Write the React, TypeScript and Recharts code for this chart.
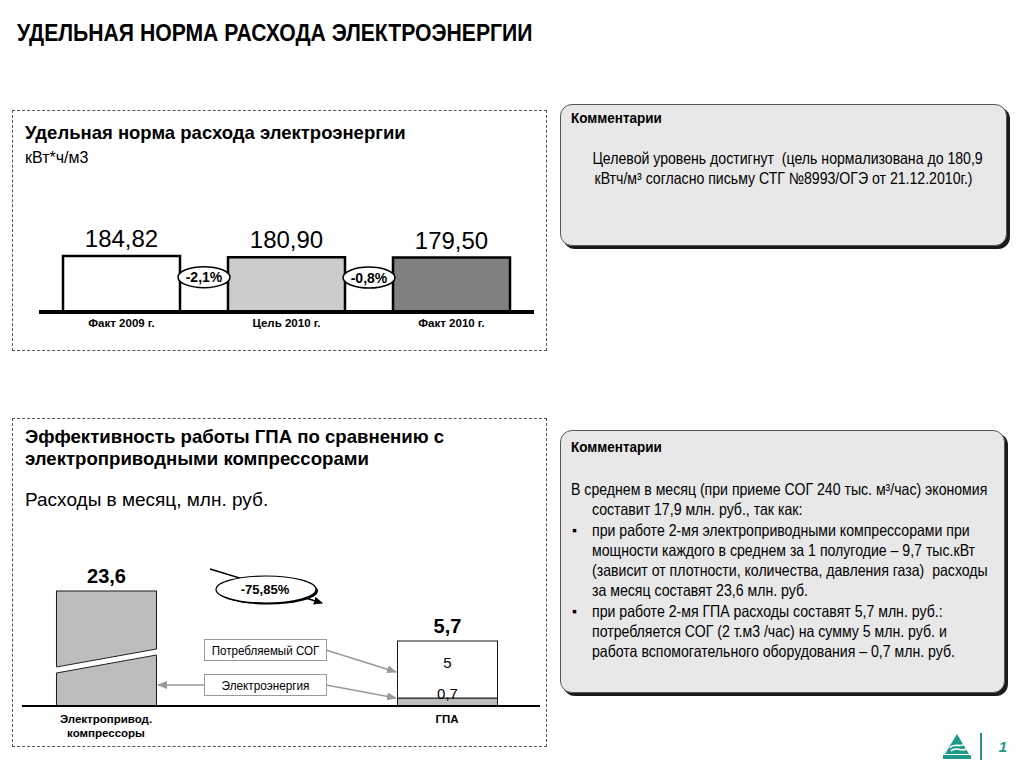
import React from "react";
import { BarChart, Bar, XAxis, YAxis, Cell, LabelList } from "recharts";

const ARIAL = '"Liberation Sans", Arial, sans-serif';
const TEAL = "#1f9a8a";

// Удельная норма расхода электроэнергии, кВт*ч/м3
const normCategories = ["Факт 2009 г.", "Цель 2010 г.", "Факт 2010 г."];
const normValues = [184.82, 180.9, 179.5];
const normChanges = ["", "-2,1%", "-0,8%"];
const normColors = ["#ffffff", "#cccccc", "#808080"];

// Расходы в месяц, млн. руб.
const costCategories = ["Электропривод.\nкомпрессоры", "ГПА"];
const electricityCost = [23.6, 0.7];
const gasCost = [0, 5];
const costTotals = [23.6, 5.7];
const electricityLabels = ["", "0,7"];
const gasLabels = ["", "5"];
const costChange = "-75,85%";

const normData = normCategories.map((name, i) => ({ name, value: normValues[i] }));
const costData = costCategories.map((name, i) => ({
  idx: i,
  name,
  electricity: electricityCost[i],
  gas: gasCost[i],
}));

const fmt = (v: number, digits: number) => v.toFixed(digits).replace(".", ",");

const M1 = { top: 56, right: 26, bottom: 18, left: 39 };
const M2 = { top: 50, right: 20, bottom: 24, left: 22 };

const vbOf = (p: any) => p.viewBox ?? p;

const ChangeBadge = (p: any) => {
  const label = normChanges[p.index];
  if (!label) return null;
  const { x, y } = vbOf(p);
  const cx = x - 24;
  const cy = y + 20;
  return (
    <g>
      <ellipse cx={cx} cy={cy} rx={26} ry={10.5} fill="#fff" stroke="#000" strokeWidth={1.5} />
      <text x={cx} y={cy} dy="0.36em" textAnchor="middle" fontFamily={ARIAL} fontWeight="bold" fontSize={14}>
        {label}
      </text>
    </g>
  );
};

// bar that is cut at the top of the plot, with a break mark
const BrokenBar = (p: any) => {
  const { x, width, fill, stroke } = p;
  let { y, height } = p;
  if (!height) return null;
  if (height < 0) {
    y = y + height;
    height = -height;
  }
  const plotTop = (p.background?.y ?? M2.top) + 1;
  const top = Math.max(y, plotTop);
  const bottom = y + height;
  const broken = y < plotTop;
  return (
    <g>
      <rect x={x} y={top} width={width} height={bottom - top} fill={fill} stroke={stroke} strokeWidth={1} />
      {broken && (
        <g>
          <polygon
            points={`${x - 1},${top + 76} ${x + width + 1},${top + 58} ${x + width + 1},${top + 64} ${x - 1},${top + 82}`}
            fill="#fff"
          />
          <line x1={x} y1={top + 76} x2={x + width} y2={top + 58} stroke="#222" strokeWidth={1} />
          <line x1={x} y1={top + 82} x2={x + width} y2={top + 64} stroke="#222" strokeWidth={1} />
        </g>
      )}
    </g>
  );
};

const TotalLabel = (p: any) => {
  const { x, y, width } = vbOf(p);
  const top = Math.max(y, M2.top + 1);
  return (
    <text x={x + width / 2} y={top - 8} textAnchor="middle" fontFamily={ARIAL} fontWeight="bold" fontSize={20} fill="#000">
      {fmt(costTotals[p.index], 1)}
    </text>
  );
};

const GasLabel = (p: any) => {
  const label = gasLabels[p.index];
  if (!label) return null;
  const { x, y, width } = vbOf(p);
  return (
    <text x={x + width / 2} y={y + 27} textAnchor="middle" fontFamily={ARIAL} fontSize={15} fill="#000">
      {label}
    </text>
  );
};

const ElectricityLabel = (p: any) => {
  const label = electricityLabels[p.index];
  if (!label) return null;
  const { x, y, width } = vbOf(p);
  return (
    <text x={x + width / 2} y={y + 1} textAnchor="middle" fontFamily={ARIAL} fontSize={15} fill="#000">
      {label}
    </text>
  );
};

const CostTick = (p: any) => {
  const lines = (costCategories[p.payload.value] ?? "").split("\n");
  return (
    <text x={p.x} y={p.y} textAnchor="middle" fontFamily={ARIAL} fontWeight="bold" fontSize={11.5} fill="#000">
      {lines.map((l, i) => (
        <tspan key={i} x={p.x} dy={i === 0 ? 15 : 14}>
          {l}
        </tspan>
      ))}
    </text>
  );
};

const commentLines: { text: string; indent: number; bullet?: boolean }[] = [
  { text: "В среднем в месяц (при приеме СОГ 240 тыс. м³/час) экономия", indent: 0 },
  { text: "составит 17,9 млн. руб., так как:", indent: 21 },
  { text: "при работе 2-мя электроприводными компрессорами при", indent: 21, bullet: true },
  { text: "мощности каждого в среднем за 1 полугодие – 9,7 тыс.кВт", indent: 21 },
  { text: "(зависит от плотности, количества, давления газа)  расходы", indent: 21 },
  { text: "за месяц составят 23,6 млн. руб.", indent: 21 },
  { text: "при работе 2-мя ГПА расходы составят 5,7 млн. руб.:", indent: 21, bullet: true },
  { text: "потребляется СОГ (2 т.м3 /час) на сумму 5 млн. руб. и", indent: 21 },
  { text: "работа вспомогательного оборудования – 0,7 млн. руб.", indent: 21 },
];

const abs = (left: number, top: number, extra: React.CSSProperties = {}): React.CSSProperties => ({
  position: "absolute",
  left,
  top,
  whiteSpace: "pre",
  ...extra,
});

const narrow = (k: number, origin = "left"): React.CSSProperties => ({
  transform: `scaleX(${k})`,
  transformOrigin: origin,
});

const commentBox: React.CSSProperties = {
  boxSizing: "border-box",
  border: "1px solid #555",
  borderRadius: 12,
  background: "#e8e8e8",
  boxShadow: "3px 3px 0 #1a1a1a",
};

export default function App() {
  return (
    <div
      style={{
        position: "absolute",
        left: 0,
        top: 0,
        width: 1024,
        height: 768,
        background: "#fff",
        fontFamily: ARIAL,
        color: "#000",
        overflow: "hidden",
      }}
    >
      <div style={abs(17, 20, { fontSize: 23.5, fontWeight: "bold", lineHeight: "26px", ...narrow(0.9) })}>
        УДЕЛЬНАЯ НОРМА РАСХОДА ЭЛЕКТРОЭНЕРГИИ
      </div>

      {/* top panel */}
      <div style={abs(12, 110, { width: 535, height: 241, border: "1px dashed #555", boxSizing: "border-box" })} />
      <div style={abs(25, 123, { fontSize: 18.5, fontWeight: "bold", lineHeight: "20px" })}>
        Удельная норма расхода электроэнергии
      </div>
      <div style={abs(25, 149, { fontSize: 16, lineHeight: "18px" })}>кВт*ч/м3</div>
      <div style={abs(0, 200)}>
        <BarChart width={560} height={160} data={normData} margin={M1}>
          <XAxis
            dataKey="name"
            height={30}
            interval={0}
            axisLine={{ stroke: "#000", strokeWidth: 4 }}
            tickLine={false}
            tickSize={0}
            tickMargin={7}
            tick={{ fontFamily: ARIAL, fontSize: 11.5, fontWeight: "bold", fill: "#000" }}
          />
          <YAxis hide domain={[0, "dataMax"]} />
          <Bar dataKey="value" barSize={117} stroke="#000" strokeWidth={2.5} isAnimationActive={false}>
            {normData.map((d, i) => (
              <Cell key={d.name} fill={normColors[i]} />
            ))}
            <LabelList
              dataKey="value"
              position="top"
              offset={9}
              formatter={(v: any) => fmt(Number(v), 2)}
              fontFamily={ARIAL}
              fontSize={24}
              fill="#000"
            />
            <LabelList dataKey="value" content={ChangeBadge} />
          </Bar>
        </BarChart>
      </div>

      {/* bottom panel */}
      <div style={abs(12, 418, { width: 535, height: 329, border: "1px dashed #555", boxSizing: "border-box" })} />
      <div style={abs(25, 426, { fontSize: 18.6, fontWeight: "bold", lineHeight: "22px" })}>
        Эффективность работы ГПА по сравнению с{"\n"}электроприводными компрессорами
      </div>
      <div style={abs(25, 489, { fontSize: 19, lineHeight: "22px" })}>Расходы в месяц, млн. руб.</div>
      <div style={abs(0, 540)}>
        <BarChart width={560} height={220} data={costData} margin={M2}>
          <XAxis
            type="number"
            dataKey="idx"
            height={30}
            domain={[-0.2463, 1.2727]}
            allowDataOverflow
            ticks={[0, 1]}
            interval={0}
            axisLine={{ stroke: "#000", strokeWidth: 2 }}
            tickLine={false}
            tickSize={0}
            tick={<CostTick />}
          />
          <YAxis hide domain={[0, 10.17]} allowDataOverflow />
          <Bar
            dataKey="electricity"
            stackId="a"
            barSize={100}
            fill="#bdbdbd"
            stroke="#1a1a1a"
            shape={BrokenBar}
            isAnimationActive={false}
          >
            <LabelList dataKey="electricity" content={ElectricityLabel} />
          </Bar>
          <Bar
            dataKey="gas"
            stackId="a"
            barSize={100}
            fill="#ffffff"
            stroke="#1a1a1a"
            shape={BrokenBar}
            isAnimationActive={false}
          >
            <LabelList dataKey="gas" content={GasLabel} />
            <LabelList dataKey="gas" content={TotalLabel} />
          </Bar>
        </BarChart>
      </div>

      {/* annotations of the bottom chart */}
      <svg width={1024} height={768} style={{ position: "absolute", left: 0, top: 0, pointerEvents: "none" }}>
        <defs>
          <marker id="arrBlack" markerWidth="9" markerHeight="8" refX="8" refY="4" orient="auto" markerUnits="userSpaceOnUse">
            <path d="M0,0 L9,4 L0,8 z" fill="#000" />
          </marker>
          <marker id="arrGray" markerWidth="10" markerHeight="8" refX="9" refY="4" orient="auto" markerUnits="userSpaceOnUse">
            <path d="M0,0 L10,4 L0,8 z" fill="#999" />
          </marker>
        </defs>
        <line x1={210} y1={569} x2={322} y2={603} stroke="#000" strokeWidth={1.5} markerEnd="url(#arrBlack)" />
        <ellipse cx={268} cy={591} rx={50} ry={13.5} fill="#000" />
        <ellipse cx={266} cy={589.5} rx={50} ry={13.5} fill="#fff" stroke="#000" strokeWidth={1.2} />
        <text x={265} y={589.5} dy="0.36em" textAnchor="middle" fontFamily={ARIAL} fontWeight="bold" fontSize={13}>
          {costChange}
        </text>

        <line x1={326} y1={650} x2={396} y2={672} stroke="#999" strokeWidth={1.5} markerEnd="url(#arrGray)" />
        <line x1={326} y1={685} x2={396} y2={698} stroke="#999" strokeWidth={1.5} markerEnd="url(#arrGray)" />
        <line x1={204} y1={685} x2={158} y2={685} stroke="#999" strokeWidth={1.5} markerEnd="url(#arrGray)" />
        <rect x={204.5} y={639.5} width={122} height={21} fill="#fff" stroke="#999" />
        <text
          x={265.5}
          y={650}
          dy="0.36em"
          textAnchor="middle"
          fontFamily={ARIAL}
          fontSize={13.5}
          transform="translate(265.5 0) scale(0.86 1) translate(-265.5 0)"
        >
          Потребляемый СОГ
        </text>
        <rect x={204.5} y={674.5} width={122} height={21} fill="#fff" stroke="#999" />
        <text
          x={265.5}
          y={685}
          dy="0.36em"
          textAnchor="middle"
          fontFamily={ARIAL}
          fontSize={13.5}
          transform="translate(265.5 0) scale(0.87 1) translate(-265.5 0)"
        >
          Электроэнергия
        </text>

        {/* footer */}
        <polygon points="945,754 957,734 969,754" fill={TEAL} />
        <path d="M950,748 C954,742 962,748 964,744 M951,751 C956,746 962,752 966,749" stroke="#fff" strokeWidth={1.6} fill="none" />
        <rect x={943} y={755} width={28} height={4} fill={TEAL} />
        <line x1={981} y1={733} x2={981} y2={760} stroke={TEAL} strokeWidth={2} />
        <text x={1003} y={752} textAnchor="middle" fontFamily={ARIAL} fontWeight="bold" fontStyle="italic" fontSize={15} fill={TEAL}>
          1
        </text>
      </svg>

      {/* comments */}
      <div style={abs(560, 104, { ...commentBox, width: 447, height: 142 })} />
      <div style={abs(571, 110, { fontSize: 14.5, fontWeight: "bold", lineHeight: "16px", ...narrow(0.93) })}>
        Комментарии
      </div>
      <div
        style={abs(560, 148, {
          width: 447,
          textAlign: "center",
          fontSize: 16.5,
          lineHeight: "20px",
          ...narrow(0.855, "center"),
        })}
      >
        {"Целевой уровень достигнут  (цель нормализована до 180,9\nкВтч/м³ согласно письму СТГ №8993/ОГЭ от 21.12.2010г.)"}
      </div>

      <div style={abs(560, 430, { ...commentBox, width: 445, height: 263 })} />
      <div style={abs(571, 439, { fontSize: 14.5, fontWeight: "bold", lineHeight: "16px", ...narrow(0.93) })}>
        Комментарии
      </div>
      {commentLines.map((l, i) => (
        <React.Fragment key={i}>
          {l.bullet && <div style={abs(572, 479 + i * 20.25, { fontSize: 14, lineHeight: "20px" })}>▪</div>}
          <div style={abs(571 + l.indent, 479 + i * 20.25, { fontSize: 16.5, lineHeight: "20px", ...narrow(0.855) })}>
            {l.text}
          </div>
        </React.Fragment>
      ))}
    </div>
  );
}
